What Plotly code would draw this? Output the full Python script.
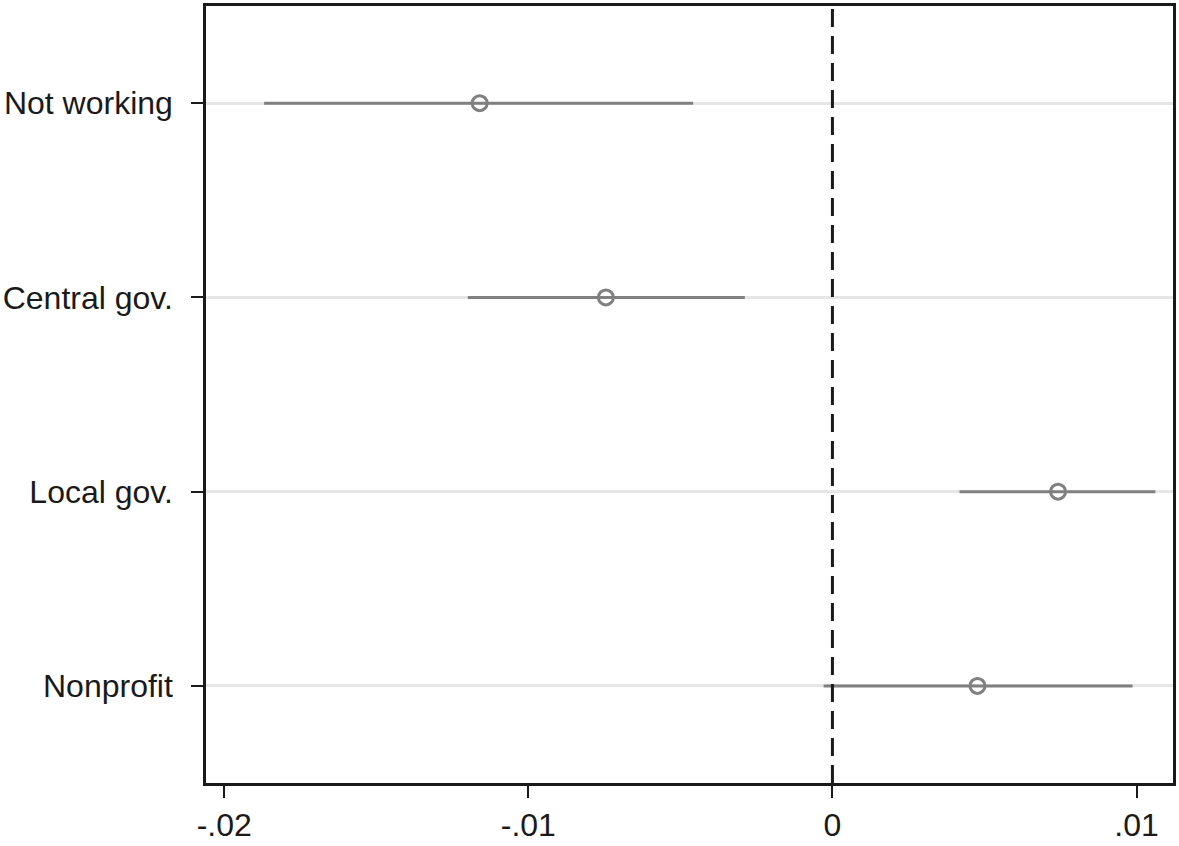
import plotly.graph_objects as go

# Koeffizienten mit 95%-KI
categories = ["Not working", "Central gov.", "Local gov.", "Nonprofit"]
estimate = [-0.01160, -0.00745, 0.00742, 0.00477]
ci_low = [-0.01869, -0.01199, 0.00418, -0.00029]
ci_high = [-0.00458, -0.00288, 0.01062, 0.00987]

x_ticks = [-0.02, -0.01, 0, 0.01]
x_ticklabels = ["-.02", "-.01", "0", ".01"]

ypos = list(range(1, len(categories) + 1))
grey = "#808080"

fig = go.Figure()

fig.add_trace(go.Scatter(
    x=estimate, y=ypos, mode="markers",
    error_x=dict(type="data", symmetric=False,
                 array=[h - e for h, e in zip(ci_high, estimate)],
                 arrayminus=[e - l for e, l in zip(estimate, ci_low)],
                 color=grey, thickness=3, width=0),
    marker=dict(symbol="circle-open", size=15, color=grey,
                line=dict(color=grey, width=3)),
    showlegend=False, hoverinfo="skip",
))

# gestrichelte Nulllinie
fig.add_shape(type="line", xref="x", yref="paper", x0=0, x1=0, y0=0, y1=1,
              line=dict(color="#1a1a1a", width=3, dash="18px,9px"), layer="above")

fig.update_layout(
    width=1179, height=846,
    paper_bgcolor="white", plot_bgcolor="white",
    margin=dict(l=199, r=4, t=3, b=61),
    font=dict(family="Liberation Sans, Arial, sans-serif", size=32, color="#1a1a1a"),
)

fig.update_xaxes(
    range=[-0.0206, 0.0112], tickvals=x_ticks, ticktext=x_ticklabels,
    showgrid=False, zeroline=False,
    showline=True, linecolor="#1a1a1a", linewidth=2.5, mirror=True,
    ticks="outside", ticklen=12, tickwidth=2, tickcolor="#1a1a1a",
)
fig.update_yaxes(
    range=[4.5, 0.5], tickvals=ypos, ticktext=categories,
    showgrid=True, gridcolor="#e6e6e6", gridwidth=3, zeroline=False,
    showline=True, linecolor="#1a1a1a", linewidth=2.5, mirror=True,
    ticks="outside", ticklen=12, tickwidth=2, tickcolor="#1a1a1a",
    ticklabelstandoff=12,
)

# Seitenrand des Browsers entfernen, damit die Grafik bei (0,0) beginnt
fig.write_html("out.html", config={"displayModeBar": False},
               post_script="document.body.style.margin='0';")
